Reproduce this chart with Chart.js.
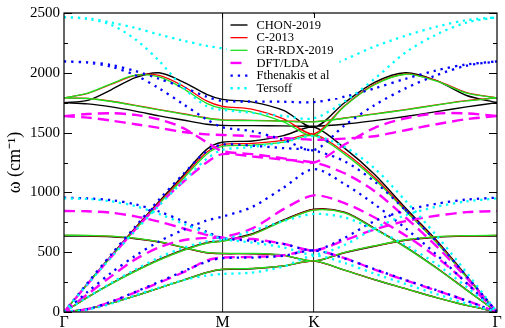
<!DOCTYPE html>
<html>
<head>
<meta charset="utf-8">
<script src="https://cdn.jsdelivr.net/npm/chart.js@4"></script>
<style>
  html, body { margin: 0; padding: 0; background: #fff; }
  #wrap { width: 505px; height: 328px; }
</style>
</head>
<body>
<div id="wrap"><canvas id="chart" width="505" height="328"></canvas></div>
<script>
// path coordinate along Γ-M-K-Γ (M at 1, K at 1 + 1/√3)
const kGrid = [0, 0.15, 0.3, 0.45, 0.6, 0.75, 0.9, 1.0, 1.19, 1.385, 1.577, 1.77, 1.96, 2.155, 2.35, 2.54, 2.732];
const kTicks = [0, 1.0, 1.577, 2.732];
const kLabels = ['Γ', 'M', 'K', 'Γ'];
const yTicks = [0, 500, 1000, 1500, 2000, 2500];

const models = ['CHON-2019', 'C-2013', 'GR-RDX-2019', 'DFT/LDA', 'Fthenakis et al', 'Tersoff'];

// branches: ZA, TA, LA, ZO, TO, LO  (cm^-1)
const chonBranches = [
  [0, 25, 75, 135, 200, 265, 330, 355, 362, 385, 425, 350, 270, 195, 120, 55, 0],
  [0, 125, 240, 345, 440, 520, 580, 597, 655, 770, 860, 835, 700, 545, 370, 185, 0],
  [0, 240, 475, 705, 925, 1140, 1360, 1419, 1430, 1475, 1545, 1370, 1150, 870, 600, 300, 0],
  [635, 634, 628, 613, 585, 540, 495, 488, 487, 473, 425, 495, 550, 600, 625, 634, 635],
  [1751, 1740, 1715, 1680, 1640, 1605, 1570, 1560, 1558, 1556, 1553, 1570, 1600, 1635, 1675, 1715, 1751],
  [1751, 1770, 1860, 1960, 2000, 1925, 1820, 1778, 1755, 1685, 1545, 1750, 1920, 2000, 1935, 1810, 1751]
];
const c2013Branches = [
  [0, 25, 75, 135, 200, 265, 330, 358, 364, 385, 426, 350, 270, 195, 120, 55, 0],
  [0, 124, 238, 342, 436, 516, 576, 593, 650, 765, 855, 830, 696, 542, 368, 184, 0],
  [0, 238, 470, 698, 915, 1125, 1335, 1400, 1410, 1435, 1485, 1335, 1125, 855, 590, 295, 0],
  [640, 639, 632, 616, 587, 541, 496, 489, 488, 474, 427, 497, 552, 602, 628, 637, 640],
  [1790, 1786, 1762, 1728, 1693, 1658, 1622, 1607, 1603, 1598, 1592, 1622, 1657, 1692, 1732, 1767, 1790],
  [1790, 1828, 1905, 1978, 1978, 1890, 1765, 1720, 1695, 1615, 1490, 1725, 1905, 1990, 1935, 1835, 1790]
];
const grrdxBranches = [
  [0, 25, 75, 135, 200, 265, 330, 359, 365, 385, 427, 350, 270, 195, 120, 55, 0],
  [0, 123, 237, 340, 434, 514, 574, 592, 648, 762, 852, 828, 694, 540, 366, 183, 0],
  [0, 236, 465, 690, 905, 1110, 1320, 1385, 1395, 1420, 1475, 1320, 1110, 845, 580, 290, 0],
  [642, 641, 634, 618, 589, 543, 498, 491, 490, 476, 427, 499, 554, 604, 630, 639, 642],
  [1790, 1785, 1760, 1725, 1690, 1655, 1620, 1605, 1600, 1595, 1590, 1620, 1655, 1690, 1730, 1765, 1790],
  [1790, 1830, 1910, 1980, 1965, 1870, 1745, 1702, 1670, 1590, 1475, 1720, 1900, 1988, 1930, 1830, 1790]
];
const dftBranches = [
  [0, 25, 85, 165, 245, 330, 430, 455, 460, 475, 515, 450, 355, 265, 180, 95, 0],
  [0, 150, 300, 440, 540, 600, 620, 625, 700, 860, 975, 910, 790, 640, 460, 245, 0],
  [0, 235, 465, 690, 900, 1085, 1250, 1320, 1300, 1275, 1250, 1160, 1010, 790, 550, 285, 0],
  [844, 842, 830, 800, 755, 700, 645, 620, 610, 570, 515, 600, 690, 760, 805, 835, 844],
  [1638, 1625, 1600, 1570, 1540, 1505, 1485, 1480, 1470, 1455, 1440, 1450, 1470, 1520, 1570, 1612, 1638],
  [1638, 1655, 1662, 1648, 1610, 1540, 1420, 1345, 1320, 1285, 1250, 1400, 1540, 1620, 1660, 1660, 1638]
];
const fthenakisBranches = [
  [0, 25, 88, 168, 252, 338, 420, 450, 455, 470, 515, 448, 358, 268, 183, 94, 0],
  [0, 170, 330, 470, 590, 685, 765, 797, 880, 1040, 1195, 1070, 900, 700, 480, 240, 0],
  [0, 245, 485, 715, 940, 1150, 1345, 1400, 1390, 1370, 1350, 1260, 1090, 850, 590, 300, 0],
  [956, 950, 935, 900, 840, 760, 670, 619, 595, 570, 515, 620, 760, 850, 905, 940, 956],
  [2095, 2085, 2050, 1980, 1870, 1740, 1610, 1545, 1510, 1440, 1355, 1560, 1730, 1870, 1980, 2060, 2095],
  [2095, 2088, 2065, 2015, 1950, 1880, 1800, 1765, 1760, 1758, 1755, 1800, 1870, 1950, 2020, 2070, 2095]
];
const tersoffBranches = [
  [0, 20, 70, 140, 205, 265, 305, 318, 330, 380, 470, 410, 320, 235, 150, 70, 0],
  [0, 125, 245, 355, 455, 535, 590, 605, 680, 760, 820, 790, 690, 560, 400, 210, 0],
  [0, 235, 460, 680, 890, 1090, 1280, 1355, 1380, 1420, 1470, 1380, 1200, 930, 640, 330, 0],
  [950, 945, 925, 885, 820, 740, 660, 610, 580, 540, 480, 560, 700, 810, 880, 925, 950],
  [2465, 2450, 2400, 2280, 2100, 1880, 1720, 1690, 1665, 1640, 1620, 1760, 1950, 2170, 2320, 2420, 2465],
  [2465, 2455, 2420, 2375, 2320, 2270, 2225, 2205, 2150, 2070, 2010, 2110, 2220, 2310, 2385, 2440, 2465]
];

const allBranches = [chonBranches, c2013Branches, grrdxBranches, dftBranches, fthenakisBranches, tersoffBranches];
const colors = ['#000000', '#ff0000', '#1ee01e', '#ff00ff', '#0000ff', '#00ffff'];
const widths = [1.4, 1.3, 1.3, 2.4, 2.3, 2.3];
const dashes = [[], [], [], [11, 6], [2.3, 5], [2.3, 4.6]];

// one dataset per model, branches separated by gaps
function branchPoints(branches) {
  const pts = [];
  branches.forEach((b, j) => {
    if (j > 0) pts.push({ x: kGrid[kGrid.length - 1], y: null });
    b.forEach((v, i) => pts.push({ x: kGrid[i], y: v }));
  });
  return pts;
}

const datasets = models.map((name, i) => ({
  label: name,
  data: branchPoints(allBranches[i]),
  borderColor: colors[i],
  borderWidth: widths[i],
  borderDash: dashes[i],
  borderCapStyle: 'butt',
  pointRadius: 0,
  tension: 0.3,
  spanGaps: false,
  fill: false,
  order: models.length - i   // later models drawn on top
}));

// legend box, frame and inner ticks
const framePlugin = {
  id: 'frame',
  afterDatasetsDraw(chart) {
    const { ctx, chartArea: a, scales } = chart;
    const y = scales.y;
    const x = scales.x;
    ctx.save();

    // legend inside the plot, white box over the curves
    const lx = x.getPixelForValue(1.0) + 4;
    ctx.fillStyle = '#ffffff';
    ctx.fillRect(lx, a.top + 1, 113, 84);
    ctx.font = '12.5px "Liberation Serif"';
    ctx.textBaseline = 'middle';
    chart.data.datasets.forEach((ds, i) => {
      const ry = a.top + 12 + i * 12.65;
      ctx.strokeStyle = ds.borderColor;
      ctx.lineWidth = ds.borderWidth;
      ctx.lineCap = 'butt';
      ctx.setLineDash(ds.borderDash);
      ctx.beginPath();
      ctx.moveTo(lx + 4, ry);
      ctx.lineTo(lx + 21, ry);
      ctx.stroke();
      ctx.setLineDash([]);
      ctx.fillStyle = '#000';
      ctx.fillText(ds.label, lx + 30, ry + 0.5);
    });

    // frame
    ctx.strokeStyle = '#000';
    ctx.lineWidth = 1.2;
    ctx.strokeRect(a.left, a.top, a.right - a.left, a.bottom - a.top);

    // inward y ticks, both sides
    ctx.lineWidth = 1;
    for (let v = 0; v <= 2500; v += 250) {
      const py = Math.round(y.getPixelForValue(v)) + 0.5;
      const len = v % 500 === 0 ? 8 : 4;
      ctx.beginPath();
      ctx.moveTo(a.left, py); ctx.lineTo(a.left + len, py);
      ctx.moveTo(a.right, py); ctx.lineTo(a.right - len, py);
      ctx.stroke();
    }
    // small top ticks at M and K
    [kTicks[1], kTicks[2]].forEach(k => {
      const px = Math.round(x.getPixelForValue(k)) + 0.5;
      ctx.beginPath();
      ctx.moveTo(px, a.top); ctx.lineTo(px, a.top + 5);
      ctx.stroke();
    });
    ctx.restore();
  }
};

new Chart(document.getElementById('chart').getContext('2d'), {
  type: 'line',
  data: { datasets: datasets },
  options: {
    responsive: false,
    animation: false,
    layout: { padding: { top: 8, right: 8, left: 0, bottom: 0 } },
    plugins: {
      legend: { display: false },
      tooltip: { enabled: false }
    },
    scales: {
      x: {
        type: 'linear',
        min: 0,
        max: kTicks[kTicks.length - 1],
        afterBuildTicks: axis => { axis.ticks = kTicks.map(v => ({ value: v })); },
        afterFit: axis => { axis.height = 16; },
        border: { display: false },
        grid: {
          drawTicks: false,
          color: c => (c.index === 1 || c.index === 2) ? '#333333' : 'rgba(0,0,0,0)',
          lineWidth: 1.1
        },
        ticks: {
          autoSkip: false,
          maxRotation: 0,
          padding: 1,
          color: '#000',
          font: { family: 'Liberation Serif', size: 16 },
          callback: (v, i) => kLabels[i]
        }
      },
      y: {
        min: 0,
        max: 2500,
        afterBuildTicks: axis => { axis.ticks = yTicks.map(v => ({ value: v })); },
        afterFit: axis => { axis.width = 64; },
        border: { display: false },
        grid: { display: false, drawTicks: false },
        ticks: {
          padding: 4,
          color: '#000',
          font: { family: 'Liberation Serif', size: 15 },
          callback: v => String(v)
        },
        title: {
          display: true,
          text: 'ω (cm⁻¹)',
          color: '#000',
          font: { family: 'Liberation Serif', size: 18 },
          padding: { top: 4, bottom: 0 }
        }
      }
    }
  },
  plugins: [framePlugin]
});
</script>
</body>
</html>
